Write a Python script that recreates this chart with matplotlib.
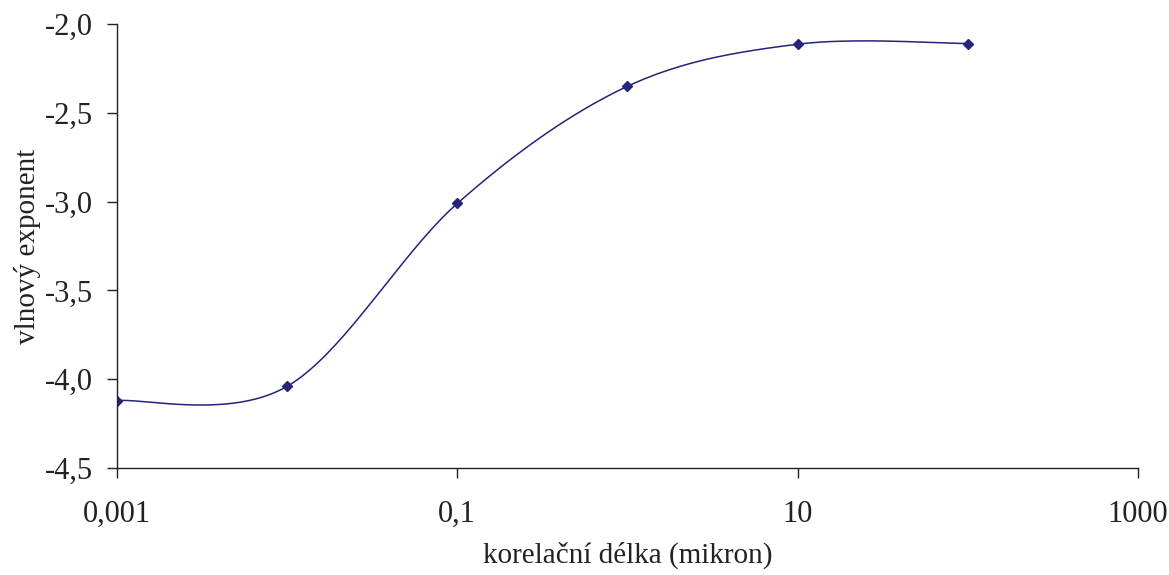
import numpy as np
import matplotlib
matplotlib.use('Agg')
import matplotlib.pyplot as plt
from matplotlib.ticker import FixedLocator, FixedFormatter, NullLocator

# correlation length (micron) vs. wave exponent
delka = [0.001, 0.01, 0.1, 1, 10, 100]
exponent = [-4.12, -4.04, -3.01, -2.35, -2.113, -2.109]

x_ticks = [0.001, 0.1, 10, 1000]
x_labels = ['0,001', '0,1', '10', '1000']
y_ticks = [-4.5, -4.0, -3.5, -3.0, -2.5, -2.0]
y_labels = ['-4,5', '-4,0', '-3,5', '-3,0', '-2,5', '-2,0']

barva = '#24247a'

plt.rcParams['font.family'] = ['Liberation Serif', 'DejaVu Serif']

# smoothed line like a spreadsheet "smooth line": cubic Bezier through the points,
# handles from neighbouring points (1/6), computed in screen-like units
def smooth(xs, ys, sx=170.0, sy=177.6, n=40):
    px = np.log10(xs) * sx
    py = np.array(ys) * sy
    P = np.column_stack([px, py])
    out = [P[0]]
    for i in range(len(P) - 1):
        p0 = P[i - 1] if i > 0 else P[i]
        p1 = P[i]
        p2 = P[i + 1]
        p3 = P[i + 2] if i + 2 < len(P) else P[i + 1]
        c1 = p1 + (p2 - p0) / 6.0
        c2 = p2 - (p3 - p1) / 6.0
        t = np.linspace(0, 1, n)[1:, None]
        b = ((1 - t) ** 3) * p1 + 3 * ((1 - t) ** 2) * t * c1 + 3 * (1 - t) * t ** 2 * c2 + t ** 3 * p2
        out.extend(b)
    out = np.array(out)
    return 10 ** (out[:, 0] / sx), out[:, 1] / sy

sx_, sy_ = smooth(delka, exponent)

fig = plt.figure(figsize=(11.69, 5.75), dpi=100)
ax = fig.add_axes([0.100, 0.186, 0.8735, 0.772])

ax.plot(sx_, sy_, color=barva, lw=1.1)
ax.plot(delka, exponent, 'D', color=barva, markersize=5.5, lw=0)

ax.set_xscale('log')
ax.set_xlim(0.001, 1000)
ax.set_ylim(-4.5, -2.0)
ax.xaxis.set_major_locator(FixedLocator(x_ticks))
ax.xaxis.set_major_formatter(FixedFormatter(x_labels))
ax.xaxis.set_minor_locator(NullLocator())
ax.set_yticks(y_ticks)
ax.set_yticklabels(y_labels)

for s in ['top', 'right']:
    ax.spines[s].set_visible(False)
for s in ['left', 'bottom']:
    ax.spines[s].set_linewidth(1.0)
    ax.spines[s].set_color('#222222')

ax.tick_params(axis='both', direction='out', length=7, width=1.0, color='#222222',
               labelsize=22, labelcolor='#222222')
ax.tick_params(axis='x', pad=16)
ax.tick_params(axis='y', pad=10)

ax.set_xlabel('korelační délka (mikron)', fontsize=21, color='#222222', labelpad=9)
ax.set_ylabel('vlnový exponent', fontsize=21, color='#222222', labelpad=3)

fig.savefig('out.png', dpi=100, facecolor='white')
